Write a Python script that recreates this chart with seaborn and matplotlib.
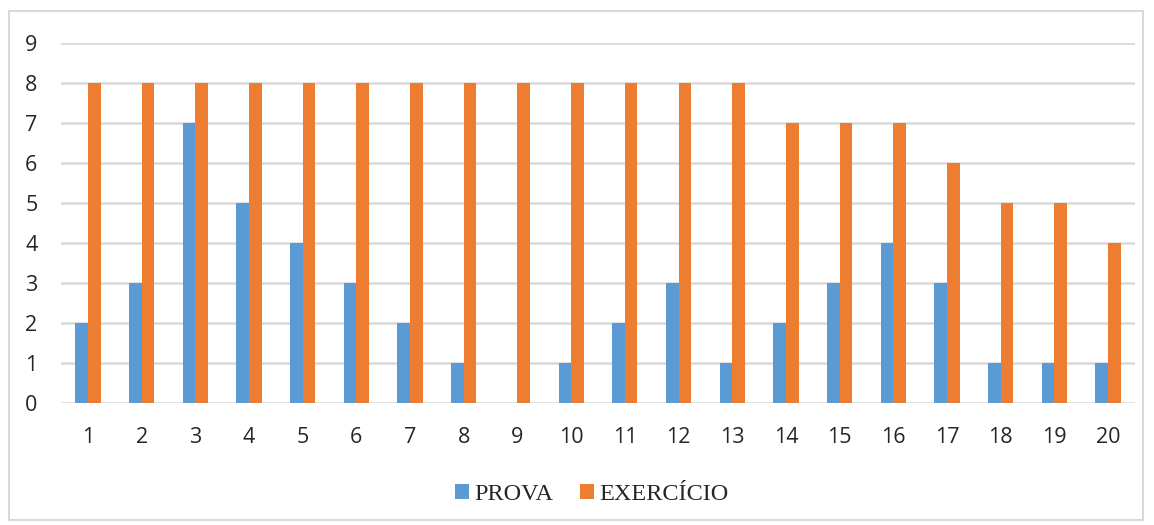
import matplotlib
matplotlib.use("Agg")
import matplotlib.pyplot as plt
from matplotlib.patches import Rectangle, Patch
import seaborn as sns
import pandas as pd

questoes = [str(i) for i in range(1, 21)]
prova = [2, 3, 7, 5, 4, 3, 2, 1, 0, 1, 2, 3, 1, 2, 3, 4, 3, 1, 1, 1]
exercicio = [8, 8, 8, 8, 8, 8, 8, 8, 8, 8, 8, 8, 8, 7, 7, 7, 6, 5, 5, 4]
series = ["PROVA", "EXERCÍCIO"]
cores = ["#5B9BD5", "#ED7D31"]

df = pd.DataFrame({
    "questao": questoes * 2,
    "valor": prova + exercicio,
    "serie": [series[0]] * len(prova) + [series[1]] * len(exercicio),
})

sns.set_style("white")
fig = plt.figure(figsize=(11.54, 5.25), dpi=100)
ax = fig.add_axes([0.0529, 0.232, 0.9306, 0.686])

sns.barplot(data=df, x="questao", y="valor", hue="serie", order=questoes,
            hue_order=series, palette=cores, width=0.47, gap=0,
            saturation=1, linewidth=0, ax=ax, legend=False, zorder=3)

ax.set_xlim(-0.5, 19.5)
ax.set_ylim(0, 9)
ax.set_yticks(range(0, 10))
ax.yaxis.grid(True, color="#D9D9D9", linewidth=1.8, zorder=0)
ax.set_axisbelow(True)
for s in ax.spines.values():
    s.set_visible(False)
ax.set_xlabel("")
ax.set_ylabel("")
ax.tick_params(axis="both", length=0, labelsize=15.5)
ax.tick_params(axis="y", pad=17)
ax.tick_params(axis="x", pad=17)
for lab in ax.get_xticklabels() + ax.get_yticklabels():
    lab.set_fontfamily("Open Sans")
    lab.set_color("#262626")

handles = [Patch(facecolor=c, edgecolor="none") for c in cores]
fig.legend(handles, series, loc="center", bbox_to_anchor=(0.5126, 0.058),
           ncol=2, frameon=False, handlelength=0.6, handleheight=0.6,
           handletextpad=0.2, columnspacing=1.1,
           prop={"family": "Liberation Serif", "size": 17.5})

fig.add_artist(Rectangle((9 / 1154, 5 / 525), 1134 / 1154, 509 / 525,
                         transform=fig.transFigure, fill=False,
                         edgecolor="#D9D9D9", linewidth=1.5))

fig.savefig("out.png", dpi=100, facecolor="white")
